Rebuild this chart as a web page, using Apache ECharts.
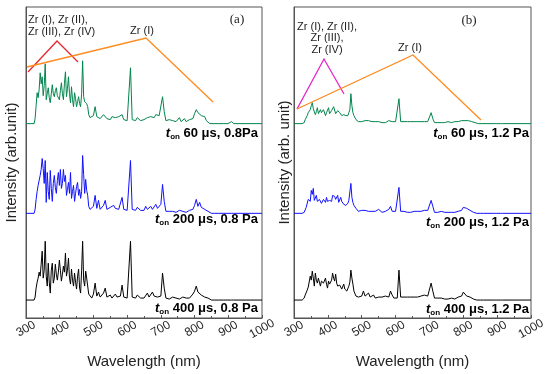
<!DOCTYPE html>
<html><head><meta charset="utf-8">
<style>html,body{margin:0;padding:0;background:#fff}#c{width:550px;height:374px}</style>
<script src="https://cdn.jsdelivr.net/npm/echarts@6/dist/echarts.min.js"></script>
</head><body><div id="c"></div>
<script>
// wavelength grid (nm)
const wavelengths = [300,315,324,
327,330,333,336,339,342,345,348,351,354,357,360,363,366,369,372,375,378,381,384,387,390,393,396,399,402,405,408,411,414,417,420,423,426,429,432,435,438,441,444,447,450,453,456,459,462,465,468,471,474,477,480,483,486,
490,495,500,505,510,515,520,525,530,535,540,545,550,555,560,565,570,575,580,585,590,595,600,605,610,615,620,625,630,635,640,645,650,655,660,665,670,675,680,685,690,695,700,705,710,715,720,725,730,735,740,745,750,755,760,765,770,775,780,785,790,795,800,805,810,815,820,825,830,835,840,845,850,855,860,
870,885,893,896,899,910,913,916,950,1000];

// panel (a), 0.8 Pa
const a60 = [0,0,0,
5,18,31,26,34,51,40,47,28,38,60,24,30,36,26,21,30,39,30,27,33,36,28,30,24,33,41,30,24,40,52,27,35,47,30,21,37,24,17,31,25,17,22,27,20,17,30,63,27,22,24,20,17,9,
6,4,8,17,7,9,5,6,9,11, 5,6,4,7,5,6,4,7,5,9, 4,6,3,4,56,4,5,3,6,4, 3,5,4,3,6,4,7,8,6,9, 7,8,6,27,12,3,2,4,2,3, 5,2,3,6,2,3,5,2,3,4, 3,5,10,14,11,12,8,6,7,3, 1,0,0,0,0,
0,0,0,0,0,2,0,0,0,0];
const a200 = [0,0,0,
4,14,22,28,26,38,44,55,45,30,53,11,41,22,14,43,25,12,30,38,26,20,33,41,28,44,25,30,44,32,38,18,24,31,20,41,15,22,28,12,20,27,31,18,24,15,22,58,39,20,34,23,18,7,
4,3,7,18,5,13,4,6,8,13, 4,3,6,4,8,5,7,4,5,16, 4,6,3,4,53,4,5,3,6,4, 3,5,3,7,4,6,7,4,6,9, 5,6,9,29,12,2,3,2,1,2, 3,1,2,3,1,2,3,1,2,3, 2,4,8,14,7,11,6,8,4,5, 2,1,0,0,0,
0,0,0,2,0,0,1,0,0,0];
const a400 = [0,0,0,
3,12,18,22,28,24,36,49,22,30,59,24,14,37,18,7,30,37,17,22,36,26,20,28,40,30,19,26,34,28,47,24,30,42,22,16,31,20,14,27,18,11,24,31,12,7,30,59,20,14,29,22,20,6,
4,2,6,17,4,8,3,5,7,12, 3,2,5,2,4,6,3,5,4,15, 3,5,2,3,59,3,4,2,5,3, 2,4,2,3,7,3,5,8,4,6, 3,5,4,27,12,2,3,1,2,3, 1,2,3,1,2,3,1,2,4,2, 3,6,9,14,8,10,5,7,3,4, 2,1,0,0,0,
0,0,0,2,0,0,1,0,0,0];

// panel (b), 1.2 Pa
const b60 = [0,0,0,
0,1,4,6,8,11,9,14,18,21,15,17,9,12,16,10,8,14,11,9,14,12,8,11,13,16,10,9,13,12,17,16,10,9,13,12,11,10,8,7,9,7,8,9,8,11,14,30,18,11,8,7,4,3,
2,1,2,2,3,2,3,5,2,4, 2,1,2,3,1,2,1,2,3,5, 2,1,2,1,25,2,1,2,1,2, 1,2,1,2,1,2,1,2,1,2, 1,2,3,11,5,1,2,1,1,1, 2,1,1,2,1,1,1,2,1,2, 2,3,5,3,4,3,3,2,1,1, 0,0,0,0,0,
0,0,0,0,0,0,0,0,0,0];
const b200 = [0,0,0,
0,1,3,6,8,14,16,12,23,19,25,13,15,18,12,11,14,16,10,12,14,13,11,16,12,10,13,15,12,18,20,17,14,12,18,11,13,16,12,10,9,11,8,9,10,13,15,30,16,11,8,7,5,3,
2,1,3,2,3,4,2,4,2,3, 2,1,4,2,1,3,2,3,4,7, 2,1,2,1,26,2,1,2,3,1, 2,1,3,2,1,2,3,2,1,3, 2,3,4,13,7,1,2,1,1,2, 1,1,2,1,1,1,2,1,1,2, 2,3,6,4,5,4,3,2,1,1, 0,0,0,0,0,
0,0,0,1,0,0,0,0,0,0];
const b400 = [0,0,0,
0,2,5,7,10,13,15,24,20,29,22,14,27,20,17,22,18,14,19,21,17,15,22,16,12,19,16,14,20,27,22,19,26,17,14,12,15,17,11,13,16,11,12,9,11,14,18,30,22,16,9,7,4,3,
3,2,4,9,4,3,7,3,2,5, 2,3,3,2,3,2,4,6,3,9, 5,2,3,2,30,3,2,3,2,3, 2,3,2,3,2,3,2,4,3,5, 3,4,6,17,9,2,1,2,1,2, 1,1,2,1,1,2,1,1,2,3, 2,4,8,6,4,5,3,2,1,1, 0,0,0,0,0,
0,0,0,1,0,0,1,0,0,0];

const xTickValues = [300,400,500,600,700,800,900,1000];
const labelsA = [' 60 μs, 0.8Pa', ' 200 μs, 0.8 Pa', ' 400 μs, 0.8 Pa'];
const labelsB = [' 60 μs, 1.2 Pa', ' 200 μs, 1.2 Pa', ' 400 μs, 1.2 Pa'];

const FF = '"Liberation Sans", Arial, sans-serif';
const OFF = [195, 105, 18];   // vertical offsets of stacked spectra
const COLORS = ['#00844c', '#1010ff', '#000000'];

const chart = echarts.init(document.getElementById('c'), null, {renderer: 'canvas'});

function mk(vals, k, gi) {
  return {
    type: 'line', xAxisIndex: gi, yAxisIndex: gi, symbol: 'none', silent: true,
    data: wavelengths.map((w, i) => [w, OFF[k] + vals[i]]),
    lineStyle: {color: COLORS[k], width: 1}
  };
}
function xAx(gi) {
  return {
    gridIndex: gi, type: 'value', min: xTickValues[0], max: xTickValues[xTickValues.length - 1], interval: 100,
    axisLine: {show: true, lineStyle: {color: '#555', width: 1}},
    axisTick: {show: true, inside: true, length: 3, lineStyle: {color: '#555'}},
    minorTick: {show: true, splitNumber: 2, length: 2, lineStyle: {color: '#555'}},
    splitLine: {show: false},
    axisLabel: {rotate: 30, margin: 11, align: 'center', verticalAlign: 'middle', fontSize: 12, color: '#222', fontFamily: FF,
      formatter: v => String(v)},
    name: 'Wavelength (nm)', nameLocation: 'middle', nameGap: 36,
    nameTextStyle: {fontSize: 15, color: '#222', fontFamily: FF}
  };
}
function yAx(gi, name, gap) {
  return {
    gridIndex: gi, type: 'value', min: 0, max: 312,
    axisLine: {show: true, lineStyle: {color: '#555'}}, axisTick: {show: false},
    axisLabel: {show: false}, splitLine: {show: false},
    name: name, nameLocation: 'middle', nameGap: gap,
    nameTextStyle: {fontSize: 15, color: '#222', fontFamily: FF}
  };
}
function lab(x, y, txt) {
  return {
    type: 'text', x: x, y: y, z: 100,
    style: {
      text: '{t|t}{s|on}{m|' + txt + '}', align: 'right', verticalAlign: 'middle',
      textAlign: 'right', textVerticalAlign: 'middle',
      rich: {
        t: {fontStyle: 'italic', fontWeight: 'bold', fontSize: 13, fontFamily: FF, fill: '#000', color: '#000', lineHeight: 16, verticalAlign: 'middle'},
        s: {fontWeight: 'bold', fontSize: 8, fontFamily: FF, fill: '#000', color: '#000', lineHeight: 16, verticalAlign: 'bottom'},
        m: {fontWeight: 'bold', fontSize: 13, fontFamily: FF, fill: '#000', color: '#000', lineHeight: 16, verticalAlign: 'middle'}
      }
    }
  };
}
function txt(x, y, s, align, font, color) {
  return {type: 'text', x: x, y: y, z: 100, style: {text: s, font: font, fill: color || '#222', align: align, verticalAlign: 'middle', textAlign: align, textVerticalAlign: 'middle'}};
}
function pl(pts, color) {
  return {type: 'polyline', z: 90, shape: {points: pts}, style: {stroke: color, lineWidth: 1.3, fill: null}};
}

const annFont = '11px ' + FF;
chart.setOption({
  animation: false,
  grid: [
    {left: 26, top: 7, width: 236, height: 312, show: true, borderColor: '#555', borderWidth: 1},
    {left: 294, top: 7, width: 237, height: 312, show: true, borderColor: '#555', borderWidth: 1}
  ],
  xAxis: [xAx(0), xAx(1)],
  yAxis: [yAx(0, 'Intensity (arb.unit)', 7), yAx(1, 'Intensity (arb. unit)', 2)],
  series: [mk(a60, 0, 0), mk(a200, 1, 0), mk(a400, 2, 0), mk(b60, 0, 1), mk(b200, 1, 1), mk(b400, 2, 1)],
  graphic: [
    lab(258, 133, labelsA[0]), lab(258, 219, labelsA[1]), lab(258, 308, labelsA[2]),
    lab(529, 133, labelsB[0]), lab(529, 222, labelsB[1]), lab(529, 309, labelsB[2]),
    txt(237, 20, '(a)', 'center', '13px "Liberation Serif", serif', '#222'),
    txt(469, 21, '(b)', 'center', '13px "Liberation Serif", serif', '#222'),
    txt(28, 20, 'Zr (I), Zr (II),', 'left', annFont), txt(28, 32, 'Zr (III), Zr (IV)', 'left', annFont),
    txt(142, 31, 'Zr (I)', 'center', annFont),
    pl([[28, 72], [57, 41], [78, 62]], '#e8262b'),
    pl([[27, 67], [146, 38], [213, 102]], '#ff8a1e'),
    txt(327, 27, 'Zr (I), Zr (II),', 'center', annFont), txt(327, 38, 'Zr (III),', 'center', annFont),
    txt(327, 50, 'Zr (IV)', 'center', annFont),
    txt(410, 48, 'Zr (I)', 'center', annFont),
    pl([[297, 109], [324, 59], [344, 94]], '#e626c8'),
    pl([[297, 109], [413, 55], [481, 120]], '#ff8a1e')
  ]
});
</script></body></html>
